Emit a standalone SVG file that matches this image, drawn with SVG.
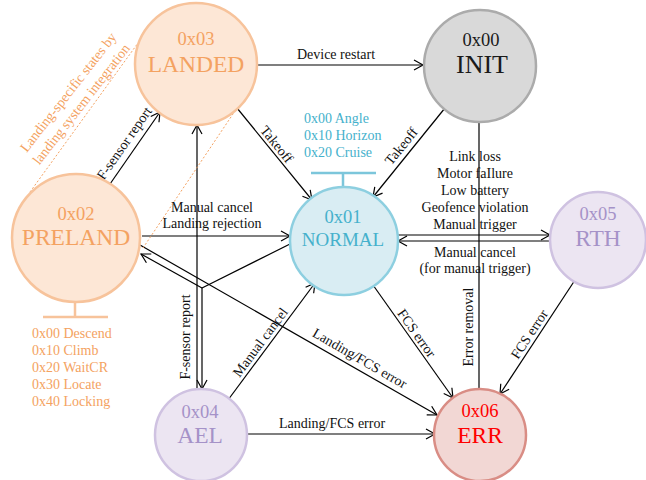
<svg xmlns="http://www.w3.org/2000/svg" width="646" height="480" viewBox="0 0 646 480" font-family="'Liberation Serif', 'DejaVu Serif', serif">
<style>
text{font-family:'Liberation Serif','DejaVu Serif',serif}
.e{stroke:#000;stroke-width:1.2;fill:none}
.a{marker-end:url(#arr)}
.lbl{font-size:14px;fill:#111;text-anchor:middle}
.hex{font-size:18.5px;text-anchor:middle}
.nm{font-size:23.5px;text-anchor:middle}
.or circle{fill:#fde7d6;stroke:#f7c39b;stroke-width:2.5}
.or text{fill:#f4a261}
.pu circle{fill:#ece5f2;stroke:#cfc2e1;stroke-width:2.5}
.pu text{fill:#a592c8}
.sub{font-size:14px}
</style>
<defs>
<marker id="arr" viewBox="-11 -7 13 14" refX="0" refY="0" markerWidth="13" markerHeight="14" markerUnits="userSpaceOnUse" orient="auto">
<path d="M-9,-5 L0,0 L-9,5" fill="none" stroke="#000" stroke-width="1.2"/>
</marker>
</defs>

<g id="connectors">
<path class="e a" d="M257,65 H423"/>
<path class="e a" d="M237,108 L312,200"/>
<path class="e a" d="M445,108 L373,197"/>
<path class="e a" d="M110,184 L160,112"/>
<path class="e a" d="M142,236 H290"/>
<path class="e a" d="M398,235 H550"/>
<path class="e a" d="M550,241 H398"/>
<path class="e" d="M479,122 V389"/>
<path class="e a" d="M197,389 V125"/>
<path class="e a" d="M202,288 V389"/>
<path class="e a" d="M202,288 L141,254"/>
<path class="e" d="M291,243.5 L202,288"/>
<path class="e a" d="M140,245 L437,415"/>
<path class="e a" d="M228,400 L315,283"/>
<path class="e a" d="M373,285 L453,398"/>
<path class="e a" d="M575,280 L500,394"/>
<path class="e a" d="M247,434 H435"/>

<text class="lbl" x="336" y="59">Device restart</text>
<text class="lbl" transform="translate(277,144) rotate(51)" y="5">Takeoff</text>
<text class="lbl" transform="translate(401,146) rotate(-51)" y="5">Takeoff</text>
<text class="lbl" transform="translate(124,143) rotate(-55)" y="5">F-sensor report</text>
<text class="lbl" x="212" y="212">Manual cancel</text>
<text class="lbl" x="212" y="228">Landing rejection</text>
<text class="lbl" x="475" y="161">Link loss</text>
<text class="lbl" x="475" y="178">Motor faIlure</text>
<text class="lbl" x="475" y="195">Low battery</text>
<text class="lbl" x="475" y="212">Geofence violation</text>
<text class="lbl" x="475" y="229">Manual trigger</text>
<text class="lbl" x="475" y="257">Manual cancel</text>
<text class="lbl" x="475" y="273">(for manual trigger)</text>
<text class="lbl" transform="translate(185,337) rotate(-90)" y="5">F-sensor report</text>
<text class="lbl" transform="translate(260,342) rotate(-53.4)" y="5">Manual cancel</text>
<text class="lbl" transform="translate(360,358) rotate(30)" y="5">Landing/FCS error</text>
<text class="lbl" transform="translate(417,333) rotate(54.7)" y="5">FCS error</text>
<text class="lbl" x="332" y="428">Landing/FCS error</text>
<text class="lbl" transform="translate(468,327) rotate(-90)" y="5">Error removal</text>
<text class="lbl" transform="translate(529,334) rotate(-56.7)" y="5">FCS error</text>
</g>

<g id="landing-group">
<path d="M30,192 L138,43 M143,248 L237,108" stroke="#f4a261" stroke-width="1" stroke-dasharray="2,2" fill="none"/>
<text class="sub" fill="#f4a261" text-anchor="middle" transform="translate(68,92) rotate(-52)" y="5">Landing-specific states by</text>
<text class="sub" fill="#f4a261" text-anchor="middle" transform="translate(81,104) rotate(-52)" y="5">landing system integration</text>
</g>

<g id="node-landed" class="or">
<circle cx="196" cy="64" r="61"/>
<text class="hex" x="196" y="45">0x03</text>
<text class="nm" x="196" y="72">LANDED</text>
</g>

<g id="node-init">
<circle cx="480" cy="66" r="56" fill="#d9d9d9" stroke="#ababab" stroke-width="2.5"/>
<text class="hex" x="481" y="46" fill="#1a1a1a">0x00</text>
<text class="nm" x="482" y="73" fill="#1a1a1a" style="font-size:26px">INIT</text>
</g>

<g id="node-normal">
<path d="M343,173 V187 M311,173 H376" stroke="#7cc6db" stroke-width="2.5" fill="none"/>
<text class="sub" x="304" y="123" fill="#45b1cc">0x00 Angle</text>
<text class="sub" x="304" y="140" fill="#45b1cc">0x10 Horizon</text>
<text class="sub" x="304" y="157" fill="#45b1cc">0x20 Cruise</text>
<circle cx="344" cy="241" r="54" fill="#d9edf3" stroke="#8dcfe0" stroke-width="2.5"/>
<text class="hex" x="343" y="223" fill="#45b1cc">0x01</text>
<text class="nm" x="343" y="246" fill="#45b1cc" style="font-size:19px">NORMAL</text>
</g>

<g id="node-preland" class="or">
<path d="M75,302 V317 M43,317 H108" stroke="#f7c39b" stroke-width="2.5" fill="none"/>
<text class="sub" x="32" y="338">0x00 Descend</text>
<text class="sub" x="32" y="355">0x10 Climb</text>
<text class="sub" x="32" y="372">0x20 WaitCR</text>
<text class="sub" x="32" y="389">0x30 Locate</text>
<text class="sub" x="32" y="406">0x40 Locking</text>
<circle cx="76" cy="238" r="64"/>
<text class="hex" x="76" y="220">0x02</text>
<text class="nm" x="76" y="245">PRELAND</text>
</g>

<g id="node-rth" class="pu">
<circle cx="598" cy="240" r="48"/>
<text class="hex" x="598" y="220">0x05</text>
<text class="nm" x="598" y="246">RTH</text>
</g>

<g id="node-ael" class="pu">
<circle cx="201" cy="435" r="46"/>
<text class="hex" x="200" y="418">0x04</text>
<text class="nm" x="200" y="443">AEL</text>
</g>

<g id="node-err">
<circle cx="480" cy="435" r="46" fill="#f2d7d4" stroke="#d98d85" stroke-width="2.5"/>
<text class="hex" x="480" y="417" fill="#ff0000">0x06</text>
<text class="nm" x="480" y="443" fill="#ff0000">ERR</text>
</g>
</svg>
